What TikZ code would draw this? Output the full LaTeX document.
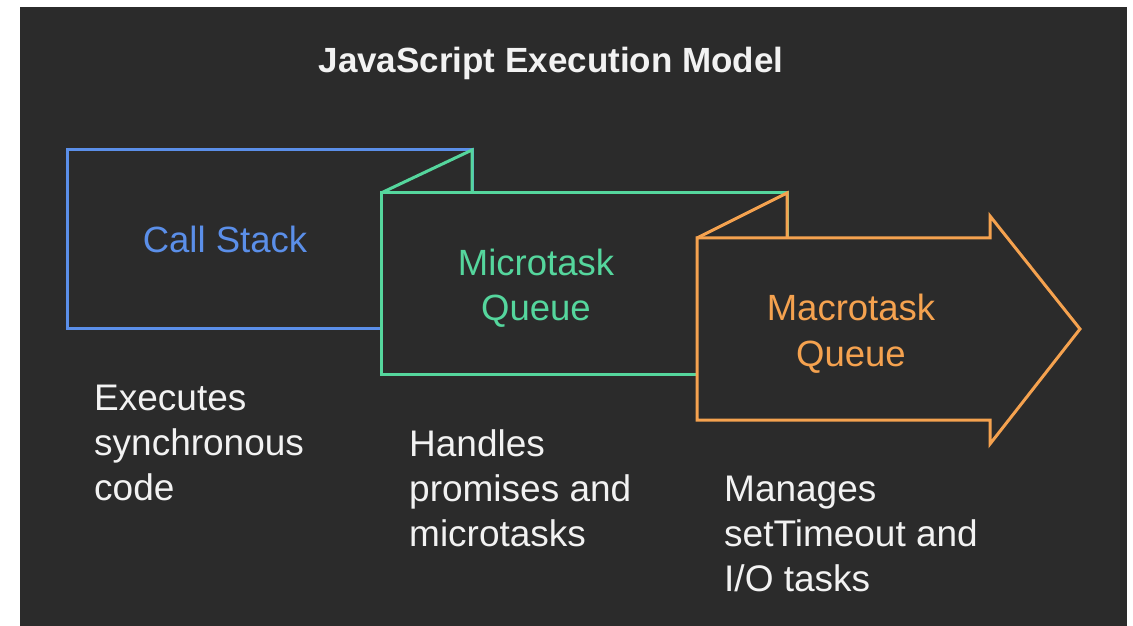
\documentclass[tikz,border=0pt]{standalone}
\usepackage{fontspec}
\setmainfont{Liberation Sans}
\definecolor{bgdark}{HTML}{2B2B2B}
\definecolor{cblue}{HTML}{5B8FE9}
\definecolor{cgreen}{HTML}{55D69D}
\definecolor{corange}{HTML}{F5A24F}
\definecolor{ctext}{HTML}{F2F2F2}
\begin{document}
\begin{tikzpicture}[x=1bp,y=-1bp,
  shapeline/.style={line width=3bp, line join=miter, fill=bgdark},
  foldline/.style={line width=3bp, line join=miter},
  label/.style={inner sep=0pt, font=\fontsize{36.5bp}{45bp}\selectfont},
  desc/.style={inner sep=0pt, anchor=base west, text=ctext, font=\fontsize{37bp}{45bp}\selectfont}]
\useasboundingbox (0,0) rectangle (1133,626);
\fill[white] (0,0) rectangle (1133,626);
\fill[bgdark] (20,7) rectangle (1127,626);
% title
\node[inner sep=0pt, anchor=base, text=ctext, font=\fontsize{35bp}{40bp}\selectfont\bfseries] (title) at (551,73) {JavaScript Execution Model};
% call stack
\draw[shapeline, draw=cblue] (67,150) rectangle (472,328);
% microtask
\draw[shapeline, draw=cgreen] (381,193) -- (787,193) -- (787,374) -- (381,374) -- cycle;
\draw[foldline, draw=cgreen] (381,193) -- (472,150) -- (472,193);
% macrotask
\draw[shapeline, draw=corange] (697,238) -- (990,238) -- (990,216) -- (1080,329) -- (990,444) -- (990,420) -- (697,420) -- cycle;
\draw[foldline, draw=corange] (697,238) -- (787,193) -- (787,238);
% labels
\node[label, anchor=base, text=cblue] (cs) at (225,253) {Call Stack};
\node[label, anchor=base, text=cgreen] (mq) at (536,276) {\begin{tabular}[t]{@{}c@{}}Microtask\\Queue\end{tabular}};
\node[label, anchor=base, text=corange] (maq) at (851,321) {\begin{tabular}[t]{@{}c@{}}Macrotask\\Queue\end{tabular}};
% descriptions
\node[desc] (d1) at (94,410) {\begin{tabular}[t]{@{}l@{}}Executes\\synchronous\\code\end{tabular}};
\node[desc] (d2) at (409,456) {\begin{tabular}[t]{@{}l@{}}Handles\\promises and\\microtasks\end{tabular}};
\node[desc] (d3) at (724,501) {\begin{tabular}[t]{@{}l@{}}Manages\\setTimeout and\\I/O tasks\end{tabular}};
\end{tikzpicture}
\end{document}
